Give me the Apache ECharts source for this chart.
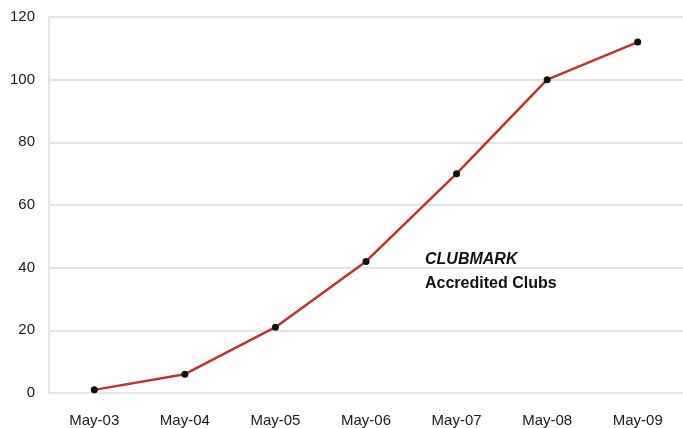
<!DOCTYPE html>
<html><head><meta charset="utf-8">
<script src="https://cdn.jsdelivr.net/npm/echarts@6/dist/echarts.min.js"></script>
<style>html,body{margin:0;padding:0;background:#fff}#c{width:683px;height:428px}</style>
</head><body><div id="c"></div>
<script>
var categories = ['May-03','May-04','May-05','May-06','May-07','May-08','May-09'];
var clubs = [1, 6, 21, 42, 70, 100, 112];
var yTicks = [0, 20, 40, 60, 80, 100, 120];

var chart = echarts.init(document.getElementById('c'));
chart.setOption({
  animation: false,
  backgroundColor: '#fff',
  grid: {left: 49, right: -2, top: 17, bottom: 35},
  xAxis: {
    type: 'category', data: categories, boundaryGap: true,
    axisLine: {show: true, lineStyle: {color: '#e6e6e6', width: 2}},
    axisTick: {show: false},
    axisLabel: {color: '#1a1a1a', fontSize: 15, fontFamily: 'Liberation Sans, Arial', margin: 20}
  },
  yAxis: {
    type: 'value', min: 0, max: 120, interval: 20,
    axisLine: {show: true, lineStyle: {color: '#e6e6e6', width: 2}},
    axisTick: {show: false},
    axisLabel: {color: '#1a1a1a', fontSize: 15, fontFamily: 'Liberation Sans, Arial', margin: 14},
    splitLine: {show: true, lineStyle: {color: '#e3e3e3', width: 2}}
  },
  series: [{
    type: 'line', data: clubs,
    symbol: 'circle', symbolSize: 7,
    itemStyle: {color: '#111'},
    lineStyle: {color: '#c0322c', width: 2.5},
    z: 3
  }],
  graphic: [
    {type: 'text', left: 425, top: 252, style: {text: 'CLUBMARK', font: 'italic bold 16px Liberation Sans, Arial', fill: '#111'}},
    {type: 'text', left: 425, top: 276, style: {text: 'Accredited Clubs', font: 'bold 16px Liberation Sans, Arial', fill: '#111'}}
  ]
});
</script></body></html>
